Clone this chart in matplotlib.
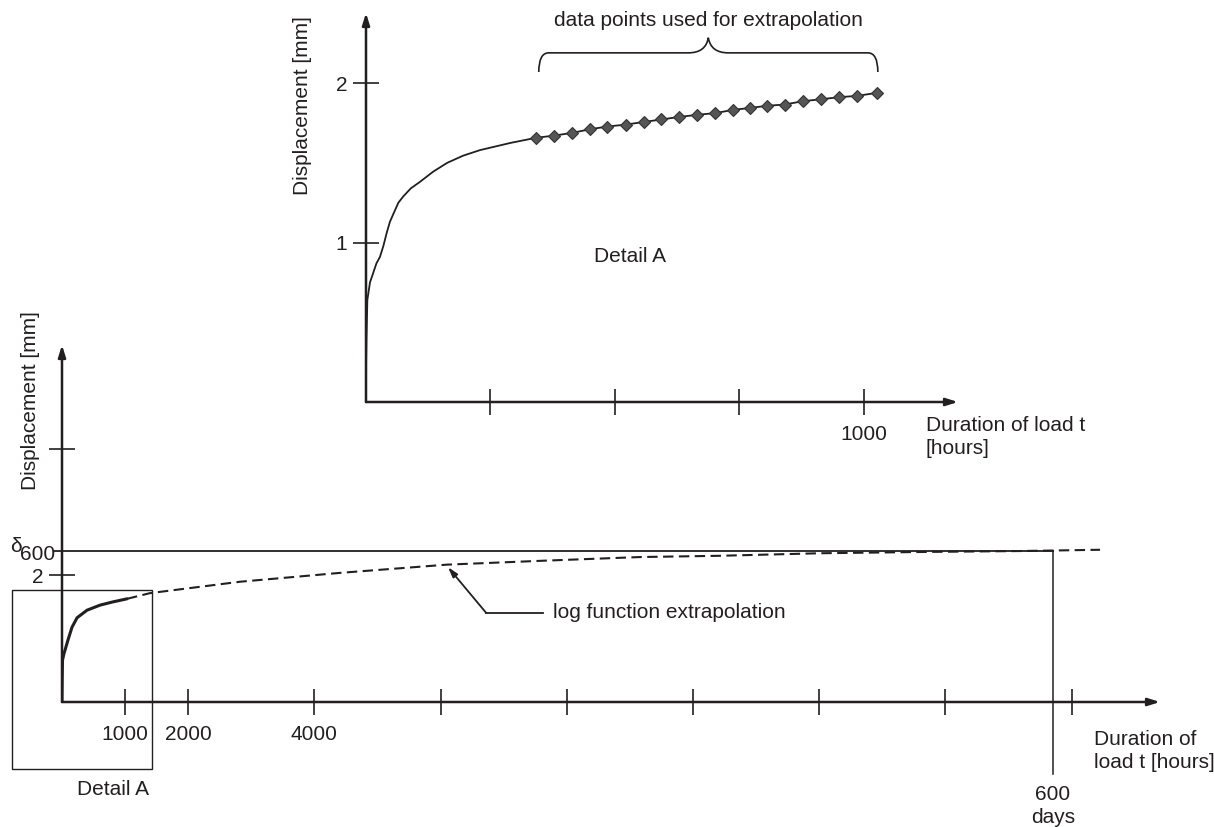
import matplotlib
matplotlib.use("Agg")
import matplotlib.pyplot as plt
from matplotlib.path import Path
from matplotlib.patches import PathPatch, Rectangle

plt.rcParams['font.family'] = ['Liberation Sans', 'DejaVu Sans']

INK = '#231f20'
FS = 15

# ---------------- data ----------------
# Detail A (inset): measured creep curve, hours vs mm
detail_t = [0, 0.3, 1, 2.7, 8, 21, 28, 35, 41.5, 48, 55, 65, 75, 90, 108, 135, 163, 195,
            229, 290, 341]
detail_d = [0, 0.25, 0.40, 0.64, 0.75, 0.87, 0.91, 0.98, 1.06, 1.13, 1.18, 1.25, 1.29,
            1.34, 1.38, 1.445, 1.50, 1.545, 1.58, 1.625, 1.657]
# data points used for extrapolation
pts_t = [341, 378, 414, 450, 485, 522, 559, 593, 629, 664, 701, 737, 772, 806, 841,
         878, 914, 950, 986, 1026]
pts_d = [1.657, 1.671, 1.688, 1.711, 1.728, 1.740, 1.757, 1.772, 1.788, 1.801, 1.812,
         1.832, 1.845, 1.858, 1.866, 1.887, 1.899, 1.912, 1.920, 1.939]
detail_xticks = [250, 500, 750, 1000]
detail_xlabels = ['', '', '', '1000']
detail_yticks = [1, 2]
detail_ylabels = ['1', '2']

# Main chart: measured part and log-function extrapolation
main_t = [0, 3, 8, 30, 48, 95, 158, 238, 396, 602, 800, 1030]
main_d = [0, 0.35, 0.66, 0.76, 0.82, 0.98, 1.18, 1.33, 1.45, 1.53, 1.58, 1.63]
ext_t = [1030, 1395, 2821, 4406, 6101, 7575, 9160, 10428, 12013, 13597, 15182, 16450]
ext_d = [1.63, 1.72, 1.90, 2.04, 2.17, 2.23, 2.29, 2.31, 2.35, 2.37, 2.385, 2.405]
main_xticks = [1000, 2000, 4000, 6000, 8000, 10000, 12000, 14000, 16000]
main_xlabels = ['1000', '2000', '4000', '', '', '', '', '', '']
main_yticks = [2, 4]
main_ylabels = ['2', '']
delta600 = 2.39
t600days = 15700

# ---------------- figure ----------------
W, H = 1214, 827
fig = plt.figure(figsize=(W / 100, H / 100), dpi=100)


def axes_px(x0, y0, x1, y1):
    # pixel box (left, bottom-origin y, right, top y) -> figure fraction
    return [x0 / W, (H - y0) / H, (x1 - x0) / W, (y0 - y1) / H]


def style_axes(ax, xmax, ymax):
    ax.set_xlim(0, xmax)
    ax.set_ylim(0, ymax)
    for s in ax.spines.values():
        s.set_visible(False)
    ax.patch.set_alpha(0)
    ax.tick_params(direction='inout', length=19, width=1.2, color=INK,
                   labelsize=FS, labelcolor=INK)
    ax.tick_params(axis='x', pad=7)
    ax.tick_params(axis='y', pad=4)
    arr = dict(arrowstyle='-|>,head_length=0.7,head_width=0.22', lw=1.8, color=INK,
               shrinkA=0, shrinkB=0)
    ax.annotate('', xy=(xmax, 0), xytext=(0, 0), arrowprops=arr, annotation_clip=False)
    ax.annotate('', xy=(0, ymax), xytext=(0, 0), arrowprops=arr, annotation_clip=False)


# ---- main (bottom) chart ----
ax = fig.add_axes(axes_px(62, 702, 1160, 345))
style_axes(ax, 17400, 5.64)
ax.set_xticks(main_xticks)
ax.set_xticklabels(main_xlabels)
ax.set_yticks(main_yticks)
ax.set_yticklabels(main_ylabels)

ax.plot(main_t, main_d, color=INK, lw=2.2, solid_capstyle='round')
ax.plot(ext_t, ext_d, color=INK, lw=1.5, dashes=(5, 2.6))
ax.plot([-130, t600days], [delta600, delta600], color=INK, lw=1.3, clip_on=False)
ax.plot([t600days, t600days], [delta600, -1.14], color=INK, lw=1.1, clip_on=False)
ax.add_patch(Rectangle((-792, -1.06), 2218, 2.83, fill=False, ec=INK, lw=1.0,
                       clip_on=False))

ax.text(-110, 2.33, '600', ha='right', va='center', fontsize=FS, color=INK)
ax.text(-640, 2.46, 'δ', ha='right', va='center', fontsize=FS, color=INK)
ax.text(808, -1.39, 'Detail A', ha='center', va='center', fontsize=FS, color=INK)
ax.text(t600days, -1.64, '600\ndays', ha='center', va='center', fontsize=FS,
        color=INK, linespacing=1.25)
ax.text(16350, -0.77, 'Duration of\nload t [hours]', ha='left', va='center',
        fontsize=FS, color=INK, linespacing=1.25)
ax.text(-507, 4.77, 'Displacement [mm]', rotation=90, ha='center', va='center',
        fontsize=FS, color=INK)
ax.text(7780, 1.41, 'log function extrapolation', ha='left', va='center',
        fontsize=FS, color=INK)
ax.plot([7620, 6720], [1.41, 1.41], color=INK, lw=1.3)
ax.annotate('', xy=(6117, 2.13), xytext=(6720, 1.41),
            arrowprops=dict(arrowstyle='-|>,head_length=0.6,head_width=0.18', lw=1.3,
                            color=INK, shrinkA=0, shrinkB=0))

# ---- Detail A (top) chart ----
ax2 = fig.add_axes(axes_px(366, 402, 958, 13))
style_axes(ax2, 1189, 2.44)
ax2.set_xticks(detail_xticks)
ax2.set_xticklabels(detail_xlabels)
ax2.set_yticks(detail_yticks)
ax2.set_yticklabels(detail_ylabels)

ax2.plot(detail_t, detail_d, color=INK, lw=1.3)
ax2.plot(pts_t, pts_d, color=INK, lw=1.3, marker='D', markersize=6.5,
         markerfacecolor='#555555', markeredgecolor='#333333', markeredgewidth=0.8)
ax2.text(530, 0.915, 'Detail A', ha='center', va='center', fontsize=FS, color=INK)
ax2.text(-128, 1.86, 'Displacement [mm]', rotation=90, ha='center', va='center',
         fontsize=FS, color=INK)
ax2.text(1124, -0.22, 'Duration of load t\n[hours]', ha='left', va='center',
         fontsize=FS, color=INK, linespacing=1.25)
ax2.text(687, 2.39, 'data points used for extrapolation', ha='center', va='center',
         fontsize=FS, color=INK)

# curly brace above the data points
b0, b1 = pts_t[0] + 6, pts_t[-1] + 2
bm = (b0 + b1) / 2
y_end, y_mid, y_tip = 2.07, 2.19, 2.285
verts = [(b0, y_end), (b0, y_mid), (b0 + 20, y_mid), (b0 + 60, y_mid),
         (bm - 40, y_mid), (bm - 5, y_mid), (bm, y_tip),
         (bm + 5, y_mid), (bm + 40, y_mid), (b1 - 60, y_mid),
         (b1 - 20, y_mid), (b1, y_mid), (b1, y_end)]
codes = [Path.MOVETO, Path.CURVE3, Path.CURVE3, Path.LINETO,
         Path.LINETO, Path.CURVE3, Path.CURVE3,
         Path.CURVE3, Path.CURVE3, Path.LINETO,
         Path.LINETO, Path.CURVE3, Path.CURVE3]
ax2.add_patch(PathPatch(Path(verts, codes), fill=False, ec=INK, lw=1.2, clip_on=False))

fig.savefig('out.png', dpi=100)
